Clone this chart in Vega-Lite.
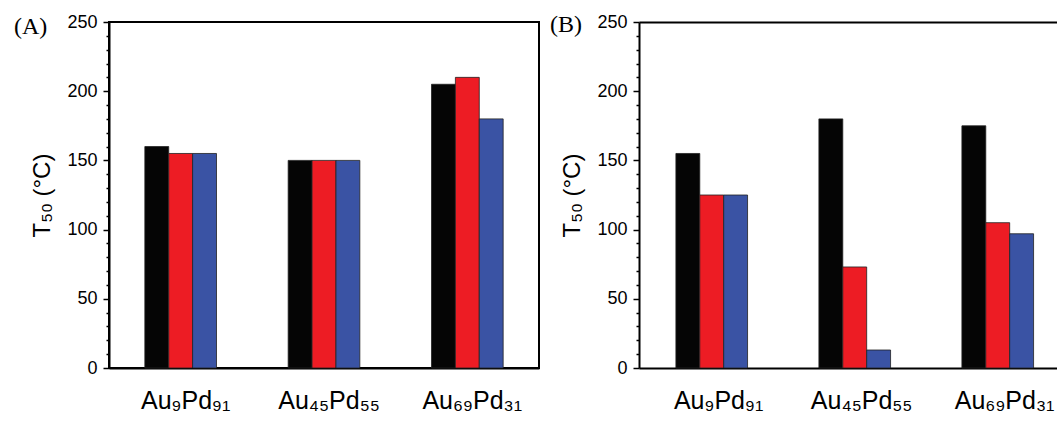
{
  "$schema": "https://vega.github.io/schema/vega-lite/v6.json",
  "padding": {"left": 12, "top": 12, "right": 0, "bottom": 0},
  "background": "white",
  "spacing": 9,
  "config": {
    "view": {"stroke": "black", "strokeWidth": 2},
    "font": "Liberation Sans",
    "axis": {
      "domainColor": "black", "domainWidth": 2, "tickColor": "black", "tickWidth": 1.5,
      "labelColor": "black", "titleColor": "black", "labelFont": "Liberation Sans", "titleFont": "Liberation Sans",
      "grid": false
    },
    "title": {"font": "Liberation Serif", "fontSize": 24, "fontWeight": "normal", "color": "black", "anchor": "start", "frame": "bounds", "baseline": "bottom"}
  },
  "datasets": {
    "A": [
      {"alloy": "Au₉Pd₉₁", "series": "s1", "t50": 160},
      {"alloy": "Au₉Pd₉₁", "series": "s2", "t50": 155},
      {"alloy": "Au₉Pd₉₁", "series": "s3", "t50": 155},
      {"alloy": "Au₄₅Pd₅₅", "series": "s1", "t50": 150},
      {"alloy": "Au₄₅Pd₅₅", "series": "s2", "t50": 150},
      {"alloy": "Au₄₅Pd₅₅", "series": "s3", "t50": 150},
      {"alloy": "Au₆₉Pd₃₁", "series": "s1", "t50": 205},
      {"alloy": "Au₆₉Pd₃₁", "series": "s2", "t50": 210},
      {"alloy": "Au₆₉Pd₃₁", "series": "s3", "t50": 180}
    ],
    "B": [
      {"alloy": "Au₉Pd₉₁", "series": "s1", "t50": 155},
      {"alloy": "Au₉Pd₉₁", "series": "s2", "t50": 125},
      {"alloy": "Au₉Pd₉₁", "series": "s3", "t50": 125},
      {"alloy": "Au₄₅Pd₅₅", "series": "s1", "t50": 180},
      {"alloy": "Au₄₅Pd₅₅", "series": "s2", "t50": 73},
      {"alloy": "Au₄₅Pd₅₅", "series": "s3", "t50": 13},
      {"alloy": "Au₆₉Pd₃₁", "series": "s1", "t50": 175},
      {"alloy": "Au₆₉Pd₃₁", "series": "s2", "t50": 105},
      {"alloy": "Au₆₉Pd₃₁", "series": "s3", "t50": 97}
    ]
  },
  "hconcat": [
    {
      "width": 430, "height": 346,
      "title": {"text": "(A)", "offset": -26, "dx": -17},
      "data": {"name": "A"},
      "mark": {"type": "bar", "stroke": "#222222", "strokeWidth": 0.8},
      "encoding": {
        "x": {"field": "alloy", "type": "nominal", "sort": null,
              "scale": {"paddingInner": 0.5, "paddingOuter": 0.25},
              "axis": {"title": null, "ticks": false, "labelAngle": 0, "labelFontSize": 25, "labelPadding": 20, "labelOffset": 5}},
        "xOffset": {"field": "series", "type": "nominal", "scale": {"paddingInner": 0, "paddingOuter": 0}},
        "y": {"field": "t50", "type": "quantitative",
              "scale": {"domain": [0, 250], "nice": false},
              "axis": {"title": "T₅₀ (°C)", "titleFontSize": 24, "titleFontWeight": "normal", "titlePadding": 12,
                       "values": [0,10,20,30,40,50,60,70,80,90,100,110,120,130,140,150,160,170,180,190,200,210,220,230,240,250],
                       "labelExpr": "datum.value % 50 === 0 ? datum.label : ''",
                       "labelOverlap": false, "labelFlush": false, "labelFontSize": 18, "labelPadding": 6,
                       "tickSize": {"condition": {"test": "datum.value % 50 === 0", "value": 6}, "value": 3}}},
        "color": {"field": "series", "type": "nominal", "legend": null,
                  "scale": {"domain": ["s1", "s2", "s3"], "range": ["#050505", "#ed1c24", "#3a53a4"]}}
      }
    },
    {
      "width": 419, "height": 346,
      "view": {"stroke": null},
      "title": {"text": "(B)", "offset": -24, "dx": -11},
      "data": {"name": "B"},
      "mark": {"type": "bar", "stroke": "#222222", "strokeWidth": 0.8},
      "encoding": {
        "x": {"field": "alloy", "type": "nominal", "sort": null,
              "scale": {"paddingInner": 0.5, "paddingOuter": 0.215, "align": 0.6},
              "axis": {"title": null, "ticks": false, "labelAngle": 0, "labelFontSize": 25, "labelPadding": 20, "labelOffset": 7}},
        "xOffset": {"field": "series", "type": "nominal", "scale": {"paddingInner": 0, "paddingOuter": 0}},
        "y": {"field": "t50", "type": "quantitative",
              "scale": {"domain": [0, 250], "nice": false},
              "axis": {"title": "T₅₀ (°C)", "titleFontSize": 24, "titleFontWeight": "normal", "titlePadding": 12,
                       "values": [0,10,20,30,40,50,60,70,80,90,100,110,120,130,140,150,160,170,180,190,200,210,220,230,240,250],
                       "labelExpr": "datum.value % 50 === 0 ? datum.label : ''",
                       "labelOverlap": false, "labelFlush": false, "labelFontSize": 18, "labelPadding": 6,
                       "tickSize": {"condition": {"test": "datum.value % 50 === 0", "value": 6}, "value": 3},
                       "grid": true, "gridColor": "black", "gridWidth": 2,
                       "gridOpacity": {"condition": {"test": "datum.value === 250", "value": 1}, "value": 0}}},
        "color": {"field": "series", "type": "nominal", "legend": null,
                  "scale": {"domain": ["s1", "s2", "s3"], "range": ["#050505", "#ed1c24", "#3a53a4"]}}
      }
    }
  ]
}
